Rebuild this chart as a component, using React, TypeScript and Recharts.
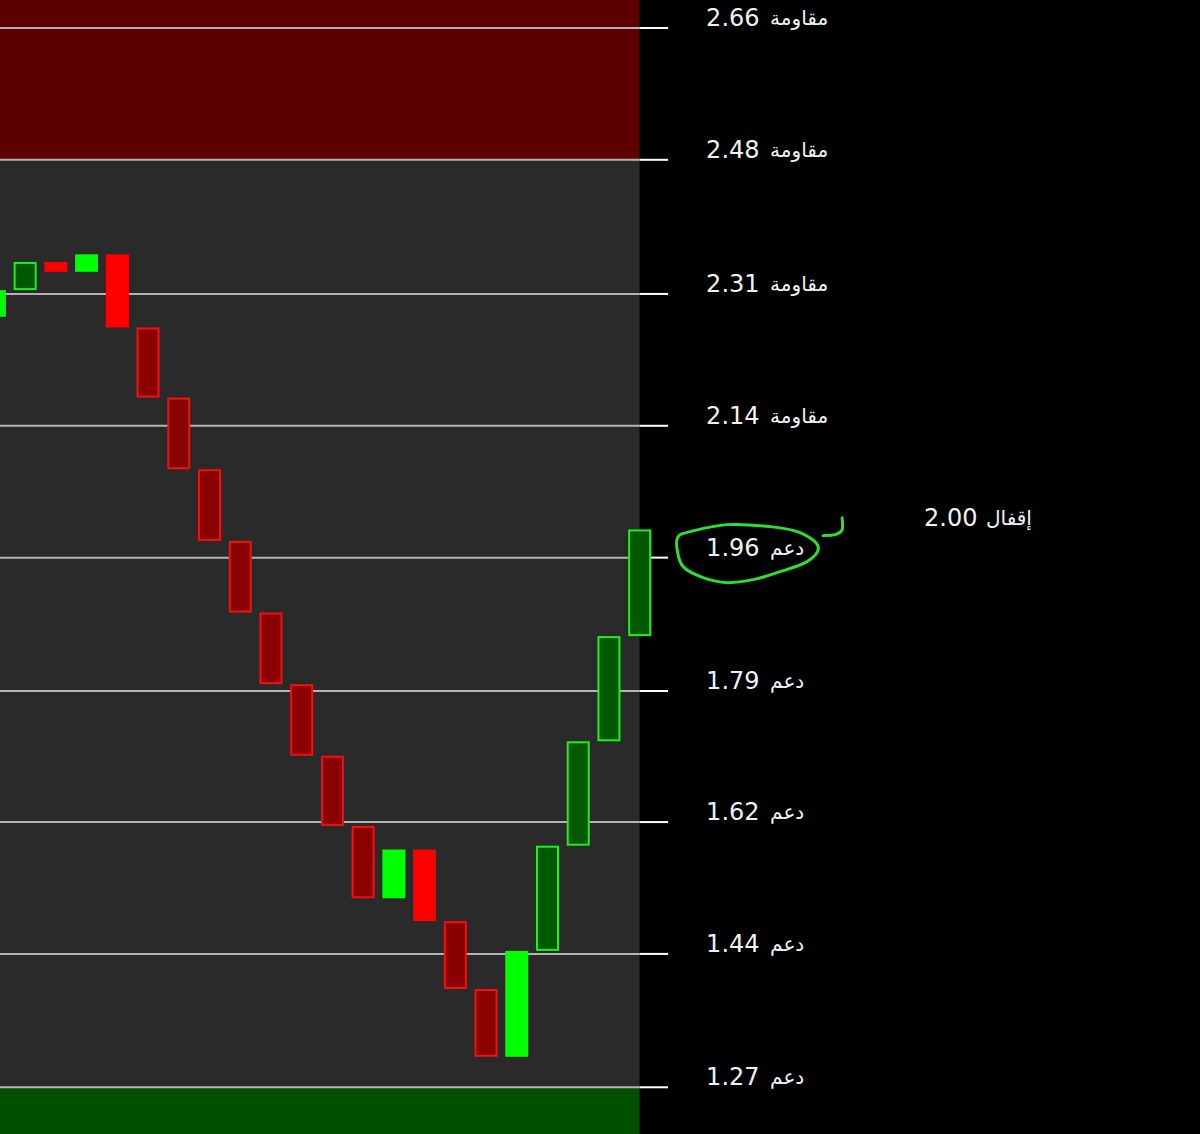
import { Bar, ComposedChart, ReferenceArea, ReferenceLine, XAxis, YAxis } from "recharts";

// box values (open / close of every box, left to right)
const opens = [
	2.281, 2.316, 2.353, 2.34, 2.363, 2.267, 2.175, 2.081, 1.987, 1.893, 1.799,
	1.705, 1.613, 1.518, 1.582, 1.488, 1.399, 1.31, 1.449, 1.587, 1.724, 1.862,
];
const closes = [
	2.316, 2.353, 2.34, 2.363, 2.267, 2.175, 2.081, 1.987, 1.893, 1.799, 1.705,
	1.613, 1.518, 1.582, 1.488, 1.399, 1.31, 1.449, 1.587, 1.724, 1.862, 2.002,
];

// support / resistance levels and their labels
const levels = [2.66, 2.487, 2.311, 2.138, 1.965, 1.79, 1.618, 1.445, 1.27];
const levelLabels = ["2.66", "2.48", "2.31", "2.14", "1.96", "1.79", "1.62", "1.44", "1.27"];
const levelKinds = ["مقاومة", "مقاومة", "مقاومة", "مقاومة", "دعم", "دعم", "دعم", "دعم", "دعم"];
const closeLabel = "2.00";
const closeKind = "إقفال";
const circledLevel = 4;

// axis setup
const xDomain = [0.186, 39.24];
const yDomain = [1.2087, 2.6967];
const panelEnd = 21;
const tickEnd = 21.93;

const candles = opens.map((open, i) => {
	const close = closes[i];
	const up = close >= open;
	const prevUp = i > 0 ? closes[i - 1] >= opens[i - 1] : !up;
	return {
		i,
		range: [Math.min(open, close), Math.max(open, close)],
		up,
		reversal: up !== prevUp,
	};
});

const FONT = "'DejaVu Sans', sans-serif";

function CandleBox(props: any) {
	const { x, y, width, height, payload } = props;
	const top = Math.min(y, y + height);
	const h = Math.abs(height);
	if (payload.reversal) {
		return (
			<rect x={x} y={top} width={width} height={h} fill={payload.up ? "#00ff00" : "#ff0000"} />
		);
	}
	return (
		<rect
			x={x + 1}
			y={top + 1}
			width={width - 2}
			height={h - 2}
			fill={payload.up ? "#005800" : "#8a0000"}
			stroke={payload.up ? "#1ef01e" : "#f31010"}
			strokeWidth={2}
		/>
	);
}

// catmull-rom through the points, for the hand drawn mark
function smoothPath(pts: number[][], closed: boolean) {
	const p = closed ? [pts[pts.length - 1], ...pts, pts[0], pts[1]] : [pts[0], ...pts, pts[pts.length - 1]];
	let d = `M${p[1][0]},${p[1][1]}`;
	for (let k = 1; k < p.length - 2; k++) {
		const [x0, y0] = p[k - 1];
		const [x1, y1] = p[k];
		const [x2, y2] = p[k + 1];
		const [x3, y3] = p[k + 2];
		d += ` C${x1 + (x2 - x0) / 6},${y1 + (y2 - y0) / 6} ${x2 - (x3 - x1) / 6},${y2 - (y3 - y1) / 6} ${x2},${y2}`;
	}
	return d;
}

const ringPts = [
	[-28, -21], [-16, -26], [21, -33], [64, -31], [94, -25], [112, -11],
	[101, 4], [71, 15], [47, 22], [21, 25], [-3, 20], [-23, 9], [-29, -8],
];
const hookPts = [[117, -22], [129, -23], [136, -28], [136, -40]];

function LevelLabel(props: any) {
	const { viewBox, value, kind, circled } = props;
	const x = viewBox.x + viewBox.width + 38;
	const y = viewBox.y;
	return (
		<g>
			<text x={x} y={y - 2} fill="#f2f2f2" fontFamily={FONT} fontSize={24}>
				{value}
			</text>
			<text x={x + 64} y={y - 3} fill="#f2f2f2" fontFamily={FONT} fontSize={20}>
				{kind}
			</text>
			{circled && (
				<g transform={`translate(${x},${y})`} fill="none" stroke="#2ee02e" strokeWidth={3} strokeLinecap="round">
					<path d={smoothPath(ringPts, true)} />
					<path d={smoothPath(hookPts, false)} />
				</g>
			)}
		</g>
	);
}

function CloseLabel(props: any) {
	const { viewBox } = props;
	const y = viewBox.y;
	return (
		<g>
			<text x={924} y={y - 3} fill="#f2f2f2" fontFamily={FONT} fontSize={24}>
				{closeLabel}
			</text>
			<text x={986} y={y - 4} fill="#f2f2f2" fontFamily={FONT} fontSize={20}>
				{closeKind}
			</text>
		</g>
	);
}

export default function App() {
	const last = levels.length - 1;
	return (
		<div style={{ position: "fixed", left: 0, top: 0, width: 1200, height: 1134, background: "#000" }}>
			<ComposedChart
				width={1200}
				height={1134}
				data={candles}
				margin={{ top: 0, right: 0, bottom: 0, left: 0 }}
				style={{ background: "#000" }}
			>
				<XAxis dataKey="i" type="number" domain={xDomain} allowDataOverflow hide ticks={candles.map((c) => c.i)} />
				<YAxis type="number" domain={yDomain} allowDataOverflow hide />

				{/* خلفية: مقاومة / وسط / دعم */}
				<ReferenceArea x1={xDomain[0]} x2={panelEnd} y1={levels[1]} y2={yDomain[1]} fill="#5c0000" fillOpacity={1} stroke="none" zIndex={-50} />
				<ReferenceArea x1={xDomain[0]} x2={panelEnd} y1={levels[last]} y2={levels[1]} fill="#2a2a2a" fillOpacity={1} stroke="none" zIndex={-50} />
				<ReferenceArea x1={xDomain[0]} x2={panelEnd} y1={yDomain[0]} y2={levels[last]} fill="#004e00" fillOpacity={1} stroke="none" zIndex={-50} />

				{levels.map((lv, k) => (
					<ReferenceLine
						key={`in-${k}`}
						segment={[{ x: xDomain[0], y: lv }, { x: panelEnd, y: lv }]}
						stroke="#b4b4b4"
						strokeWidth={2}
						zIndex={-40}
					/>
				))}
				{levels.map((lv, k) => (
					<ReferenceLine
						key={`out-${k}`}
						segment={[{ x: panelEnd, y: lv }, { x: tickEnd, y: lv }]}
						stroke="#ffffff"
						strokeWidth={2}
						zIndex={-40}
						label={<LevelLabel value={levelLabels[k]} kind={levelKinds[k]} circled={k === circledLevel} />}
					/>
				))}
				<ReferenceLine
					segment={[{ x: tickEnd, y: closes[closes.length - 1] }, { x: xDomain[1], y: closes[closes.length - 1] }]}
					stroke="none"
					label={<CloseLabel />}
				/>

				<Bar dataKey="range" barSize={23} shape={<CandleBox />} isAnimationActive={false} />
			</ComposedChart>
		</div>
	);
}
